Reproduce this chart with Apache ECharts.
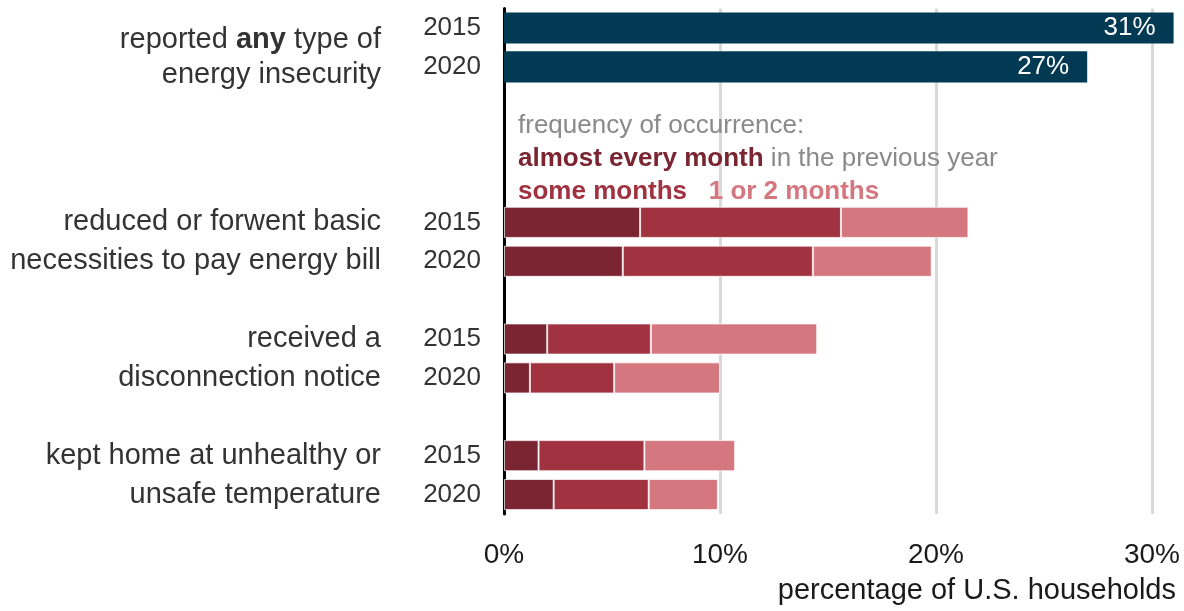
<!DOCTYPE html>
<html>
<head>
<meta charset="utf-8">
<script src="https://cdn.jsdelivr.net/npm/echarts@6/dist/echarts.min.js"></script>
<style>
html,body{margin:0;padding:0;background:#fff;}
#chart{width:1184px;height:611px;}
</style>
</head>
<body>
<div id="chart"></div>
<script>
// ---- data ----
const rowYears = ['2015','2020','','','','2015','2020','','2015','2020','','2015','2020'];
const rowGroupLines = [
  'reported any type of', 'energy insecurity', '', '', '',
  'reduced or forwent basic', 'necessities to pay energy bill', '',
  'received a', 'disconnection notice', '',
  'kept home at unhealthy or', 'unsafe temperature'
];
const anyValues    = [31, 27, null, null, null, null, null, null, null, null, null, null, null];
const almostEvery  = [null, null, null, null, null, 6.3, 5.5, null, 2.0, 1.2, null, 1.6, 2.3];
const someMonths   = [null, null, null, null, null, 9.3, 8.8, null, 4.8, 3.9, null, 4.9, 4.4];
const oneTwoMonths = [null, null, null, null, null, 5.9, 5.5, null, 7.7, 4.9, null, 4.2, 3.2];
const xTicks = [0, 10, 20, 30];
const xMax = 31;

const FONT = '"Liberation Sans", Arial, sans-serif';
const C_NAVY = '#023a53', C_DARK = '#7a2531', C_MID = '#a13240', C_LIGHT = '#d5777f';

const chart = echarts.init(document.getElementById('chart'));
const cats = rowYears.map((y, i) => 'r' + i);

chart.setOption({
  animation: false,
  textStyle: { fontFamily: FONT },
  title: [
    {
      left: 518, top: 109, padding: 0,
      text: '{g|frequency of occurrence:}\n{a|almost every month}{g| in the previous year}\n{s|some months}{g|   }{l|1 or 2 months}',
      textStyle: {
        fontWeight: 'normal',
        rich: {
          g: { fontFamily: FONT, fontSize: 26, color: '#8a8a8a', fontWeight: 'normal', lineHeight: 33 },
          a: { fontFamily: FONT, fontSize: 26, color: C_DARK, fontWeight: 'bold', lineHeight: 33 },
          s: { fontFamily: FONT, fontSize: 26, color: C_MID, fontWeight: 'bold', lineHeight: 33 },
          l: { fontFamily: FONT, fontSize: 26, color: C_LIGHT, fontWeight: 'bold', lineHeight: 33 }
        }
      }
    },
    {
      right: 8, top: 576, padding: 0,
      text: 'percentage of U.S. households',
      textStyle: { fontFamily: FONT, fontSize: 29, fontWeight: 'normal', color: '#1a1a1a' }
    }
  ],
  grid: { left: 504, right: 10.4, top: 8.5, bottom: 97, containLabel: false },
  xAxis: {
    type: 'value', min: 0, max: xMax, interval: 10,
    axisLine: { show: false }, axisTick: { show: false },
    splitLine: {
      show: true,
      lineStyle: { color: ['#d9d9d9', '#d9d9d9', '#d9d9d9', '#d9d9d9', 'rgba(0,0,0,0)'], width: 3 }
    },
    axisLabel: {
      margin: 27, fontFamily: FONT, fontSize: 28, color: '#1a1a1a',
      formatter: v => xTicks.indexOf(v) >= 0 ? v + '%' : ''
    }
  },
  yAxis: [
    {
      type: 'category', data: cats, inverse: true,
      axisLine: { show: true, lineStyle: { color: '#000', width: 3 } },
      axisTick: { show: false },
      axisLabel: {
        margin: 23, fontFamily: FONT, fontSize: 26, color: '#333',
        formatter: (v, i) => rowYears[i]
      }
    },
    {
      type: 'category', data: cats, inverse: true, position: 'left', offset: 100,
      axisLine: { show: false }, axisTick: { show: false },
      axisLabel: {
        margin: 23, fontFamily: FONT, fontSize: 29, color: '#333',
        formatter: (v, i) => {
          const t = rowGroupLines[i];
          if (i === 0) {
            const parts = t.split('any');
            return '{p|' + parts[0] + '}{bp|any}{p|' + parts[1] + '}';
          }
          if (i === 1) return '{q|' + t + '}';
          return t;
        },
        rich: {
          p: { fontFamily: FONT, fontSize: 29, color: '#333', padding: [24, 0, 0, 0] },
          bp: { fontFamily: FONT, fontSize: 29, color: '#333', fontWeight: 'bold', padding: [24, 0, 0, 0] },
          q: { fontFamily: FONT, fontSize: 29, color: '#333', padding: [16, 0, 0, 0] }
        }
      }
    }
  ],
  series: [
    {
      name: 'any', type: 'bar', stack: 's', data: anyValues, barWidth: '80%',
      itemStyle: { color: C_NAVY },
      label: {
        show: true, position: 'insideRight', distance: 18,
        fontFamily: FONT, fontSize: 26, color: '#fff',
        formatter: p => p.value == null ? '' : p.value + '%'
      }
    },
    {
      name: 'almost every month', type: 'bar', stack: 's', data: almostEvery, barWidth: '80%',
      itemStyle: { color: C_DARK, borderColor: 'rgba(255,255,255,0.7)', borderWidth: 1 }
    },
    {
      name: 'some months', type: 'bar', stack: 's', data: someMonths, barWidth: '80%',
      itemStyle: { color: C_MID, borderColor: 'rgba(255,255,255,0.7)', borderWidth: 1 }
    },
    {
      name: '1 or 2 months', type: 'bar', stack: 's', data: oneTwoMonths, barWidth: '80%',
      itemStyle: { color: C_LIGHT, borderColor: 'rgba(255,255,255,0.7)', borderWidth: 1 }
    }
  ]
});
</script>
</body>
</html>
